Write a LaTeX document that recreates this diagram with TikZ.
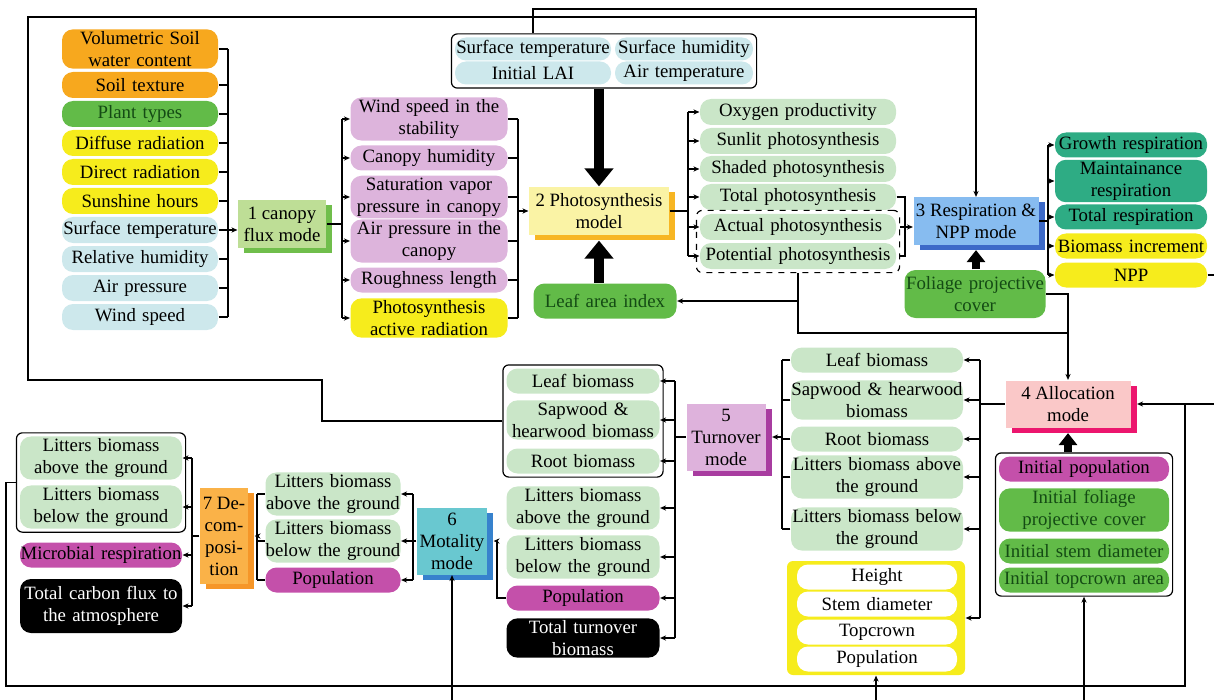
\documentclass[tikz,border=0pt]{standalone}
\usepackage{fontspec}
\setmainfont{Liberation Serif}
\usetikzlibrary{arrows.meta,fit,shadows}

\definecolor{cOrange}{RGB}{247,168,30}
\definecolor{cGreen}{RGB}{98,187,72}
\definecolor{cGreenTxt}{RGB}{20,75,20}
\definecolor{cYellow}{RGB}{246,236,28}
\definecolor{cSky}{RGB}{205,232,236}
\definecolor{cLilac}{RGB}{221,180,220}
\definecolor{cMint}{RGB}{202,230,200}
\definecolor{cTeal}{RGB}{46,172,132}
\definecolor{cMag}{RGB}{196,80,170}
\definecolor{mOneFill}{RGB}{190,222,150}
\definecolor{mOneShade}{RGB}{112,190,75}
\definecolor{mTwoFill}{RGB}{250,243,165}
\definecolor{mTwoShade}{RGB}{247,182,35}
\definecolor{mThreeFill}{RGB}{135,188,240}
\definecolor{mThreeShade}{RGB}{60,105,200}
\definecolor{mFourFill}{RGB}{250,200,200}
\definecolor{mFourShade}{RGB}{236,22,110}
\definecolor{mFiveFill}{RGB}{222,178,220}
\definecolor{mFiveShade}{RGB}{168,60,160}
\definecolor{mSixFill}{RGB}{105,200,208}
\definecolor{mSixShade}{RGB}{55,130,205}
\definecolor{mSevenFill}{RGB}{250,178,72}
\definecolor{mSevenShade}{RGB}{246,150,40}

\tikzset{
  pill/.style={rounded corners=5.5pt, inner xsep=0pt, inner ysep=1pt, minimum height=12.5pt, align=center},
  orangebox/.style={fill=cOrange},
  greenbox/.style={fill=cGreen, text=cGreenTxt},
  yellowbox/.style={fill=cYellow},
  skybox/.style={fill=cSky},
  lilacbox/.style={fill=cLilac},
  mintbox/.style={fill=cMint},
  tealbox/.style={fill=cTeal},
  magbox/.style={fill=cMag},
  blackbox/.style={fill=black, text=white},
  whitebox/.style={fill=white},
  model/.style 2 args={fill=#1, general shadow={fill=#2, shadow xshift=3pt, shadow yshift=-2.5pt}, inner sep=1pt, align=center},
  frame/.style={draw, rounded corners=3pt, inner sep=1.5pt},
  dashframe/.style={draw, dashed, rounded corners=3pt, inner sep=1.5pt},
  conn/.style={-{Stealth[length=3pt,width=2.6pt]}},
  bigarrow/.style={line width=5pt, -{Triangle[length=9pt,width=14pt]}},
  smallarrow/.style={line width=4pt, -{Triangle[length=6pt,width=9pt]}, shorten >=2.5pt}
}

\begin{document}
\begin{tikzpicture}[x=0.5pt,y=-0.5pt,line width=0.6pt,
  every node/.style={font=\fontsize{9.4}{11}\selectfont}]
\useasboundingbox (0,0) rectangle (1214,700);

% canopy flux inputs
\foreach \y/\s/\txt [count=\i] in {49/orangebox/{Volumetric Soil\\water content},
    85/orangebox/Soil texture, 114/greenbox/Plant types,
    143/yellowbox/Diffuse radiation, 172/yellowbox/Direct radiation,
    201/yellowbox/Sunshine hours, 230/skybox/Surface temperature,
    259/skybox/Relative humidity, 288/skybox/Air pressure, 317/skybox/Wind speed}
  \node[pill,\s,text width=78pt,minimum height=13pt] (in\i) at (140,\y) {\txt};

\node[model={mOneFill}{mOneShade},minimum width=44pt,minimum height=24pt] (m1) at (282,224) {1 canopy\\flux mode};

% canopy variables
\foreach \y/\s/\txt [count=\i] in {119/lilacbox/{Wind speed in the\\stability},
    158/lilacbox/Canopy humidity, 197/lilacbox/{Saturation vapor\\pressure in canopy},
    241/lilacbox/{Air pressure in the\\canopy}, 280/lilacbox/Roughness length,
    318/yellowbox/{Photosynthesis\\active radiation}}
  \node[pill,\s,text width=78.5pt] (cf\i) at (429,\y) {\txt};

% forcing on top
\node[pill,skybox,text width=78pt,minimum height=11.5pt] (st) at (533,49) {Surface temperature};
\node[pill,skybox,text width=69pt,minimum height=11.5pt] (sh) at (684,49) {Surface humidity};
\node[pill,skybox,text width=78pt,minimum height=11.5pt] (il) at (533,73) {Initial LAI};
\node[pill,skybox,text width=69pt,minimum height=11.5pt] (airt) at (684,73) {Air temperature};
\node[frame,fit=(st)(airt)] (top) {};

\node[model={mTwoFill}{mTwoShade},minimum width=70pt,minimum height=24pt] (m2) at (599,211) {2 Photosynthesis\\model};
\node[pill,greenbox,text width=71.5pt,minimum height=17.5pt] (lai) at (605,301) {Leaf area index};

% photosynthesis outputs
\foreach \y/\txt [count=\i] in {112/Oxygen productivity, 141/Sunlit photosynthesis,
    169/Shaded photosynthesis, 197/Total photosynthesis,
    227/Actual photosynthesis, 256/Potential photosynthesis}
  \node[pill,mintbox,text width=98pt,minimum height=13pt] (ps\i) at (798,\y) {\txt};
\node[dashframe,fit=(ps5)(ps6)] (ph) {};

\node[model={mThreeFill}{mThreeShade},minimum width=62.5pt,minimum height=23.5pt] (m3) at (976,221) {3 Respiration \&\\NPP mode};
\node[pill,greenbox,text width=70.5pt,minimum height=24pt] (fpc) at (975,294) {Foliage projective\\cover};

% respiration outputs
\foreach \y/\s/\txt [count=\i] in {145/tealbox/Growth respiration,
    181/tealbox/{Maintainance\\respiration}, 217/tealbox/Total respiration,
    246/yellowbox/Biomass increment, 275/yellowbox/NPP}
  \node[pill,\s,text width=76pt] (rs\i) at (1131,\y) {\txt};

\node[model={mFourFill}{mFourShade},minimum width=62.5pt,minimum height=23.5pt] (m4) at (1068,404) {4 Allocation\\mode};

% initial state
\foreach \y/\s/\txt [count=\i] in {469/magbox/Initial population,
    510/greenbox/{Initial foliage\\projective cover}, 551/greenbox/Initial stem diameter,
    580/greenbox/Initial topcrown area}
  \node[pill,\s,text width=85pt] (ini\i) at (1084,\y) {\txt};
\node[frame,fit=(ini1)(ini4)] (ini) {};

% allocation outputs
\foreach \y/\txt [count=\i] in {360/Leaf biomass, 400/{Sapwood \& hearwood\\biomass},
    439/Root biomass, 477/{Litters biomass above\\the ground},
    529/{Litters biomass below\\the ground}}
  \node[pill,mintbox,text width=86pt] (al\i) at (877,\y) {\txt};
\node[fill=cYellow,rounded corners=3pt,minimum width=89pt,minimum height=57pt] (hgrp) at (876,618) {};
\foreach \y/\txt [count=\i] in {577/Height, 604/Stem diameter, 632/Topcrown, 659/Population}
  \node[pill,whitebox,text width=80pt] (hg\i) at (877,\y) {\txt};

\node[model={mFiveFill}{mFiveShade},minimum width=39.5pt,minimum height=33.5pt] (m5) at (726,437) {5\\Turnover\\mode};

% turnover outputs
\foreach \y/\s/\txt [count=\i] in {381/mintbox/Leaf biomass,
    420/mintbox/{Sapwood \&\\hearwood biomass}, 461/mintbox/Root biomass,
    508/mintbox/{Litters biomass\\above the ground}, 557/mintbox/{Litters biomass\\below the ground},
    598/magbox/Population, 638/blackbox/{Total turnover\\biomass}}
  \node[pill,\s,text width=76.5pt] (to\i) at (583,\y) {\txt};
\node[frame,fit=(to1)(to3)] (tog) {};

\node[model={mSixFill}{mSixShade},minimum width=35pt,minimum height=33.5pt] (m6) at (452,541) {6\\Motality\\mode};

% mortality outputs
\foreach \y/\s/\txt [count=\i] in {494/mintbox/{Litters biomass\\above the ground},
    541/mintbox/{Litters biomass\\below the ground}, 580/magbox/Population}
  \node[pill,\s,text width=67.5pt] (mo\i) at (333,\y) {\txt};

\node[model={mSevenFill}{mSevenShade},minimum width=24pt,minimum height=48pt] (m7) at (224,536) {7 De-\\com-\\posi-\\tion};

% decomposition outputs
\foreach \y/\s/\txt [count=\i] in {458/mintbox/{Litters biomass\\above the ground},
    507/mintbox/{Litters biomass\\below the ground}, 555/magbox/Microbial respiration}
  \node[pill,\s,text width=81pt] (de\i) at (101,\y) {\txt};
\node[pill,blackbox,text width=81pt,minimum height=27pt] (de4) at (101,606) {Total carbon flux to\\the atmosphere};
\node[frame,fit=(de1)(de2)] (deg) {};

% bus lines
\coordinate (b1) at (228,0);
\coordinate (b2) at (342,0);
\coordinate (b3) at (518,0);
\coordinate (b4) at (688,0);
\coordinate (b5) at (905,0);
\coordinate (b6) at (1048,0);
\coordinate (b7) at (980,0);
\coordinate (b8) at (782,0);
\coordinate (b9) at (675,0);
\coordinate (b10) at (497,0);
\coordinate (b11) at (413,0);
\coordinate (b12) at (257,0);
\coordinate (b13) at (192,0);
\coordinate (bot) at (0,700);

% 1 canopy flux
\foreach \i in {1,...,10} \draw (in\i.east) -- (in\i.east -| b1);
\draw (in1.east -| b1) -- (in10.east -| b1);
\draw[conn] (in7.east) -- (in7.east -| m1.west);
\draw (m1.east) -- (m1.east -| b2);
\draw (cf1.west -| b2) -- (cf6.west -| b2);
\foreach \i in {1,...,6} {
  \draw[conn] (cf\i.west -| b2) -- (cf\i.west);
  \draw (cf\i.east) -- (cf\i.east -| b3);
}
\draw (cf1.east -| b3) -- (cf6.east -| b3);
\draw[conn] (m2.west -| b3) -- (m2.west);

% 2 photosynthesis
\draw[bigarrow] (m2.north |- top.south) -- (m2.north);
\draw[bigarrow,shorten >=2.5pt] (m2.south |- lai.north) -- (m2.south);
\draw (m2.east) -- (m2.east -| b4);
\draw (ps1.west -| b4) -- (ps6.west -| b4);
\foreach \i in {1,...,6} \draw[conn] (ps\i.west -| b4) -- (ps\i.west);
\draw (ps4.east) -| (ps6.east -| b5) -- (ps6.east -| ph.east);
\draw[conn] (ps5.east -| ph.east) -- (ps5.east -| m3.west);
\draw[conn] (ph.south |- lai.east) -- (lai.east);

% 3 respiration
\draw[smallarrow] (m3.south |- fpc.north) -- (m3.south);
\draw (m3.east) -- (m3.east -| b6);
\draw (rs1.west -| b6) -- (rs5.west -| b6);
\foreach \i in {1,...,5} \draw[conn] (rs\i.west -| b6) -- (rs\i.west);
\coordinate (tr) at (976,9);
\draw[conn] (st.north |- top.north) |- (tr) -- (m3.north);

% 4 allocation
\coordinate (j2) at (1068,333);
\coordinate (nr) at (1222,275);
\draw[conn] (fpc.east) -| (m4.north);
\draw (ph.south) |- (j2);
\draw[conn,shorten >=3pt] (rs5.east) -- (nr) |- (m4.east);
\draw[smallarrow] (m4.south |- ini.north) -- (m4.south);
\draw[conn] (ini.south |- bot) -- (ini.south);
\draw (m4.west) -- (m4.west -| b7);
\draw (al1.east -| b7) -- (hgrp.east -| b7);
\foreach \i in {1,...,5} \draw[conn] (al\i.east -| b7) -- (al\i.east);
\draw[conn] (hgrp.east -| b7) -- (hgrp.east);
\draw[conn] (hgrp.south |- bot) -- (hgrp.south);

% 5 turnover
\foreach \i in {1,...,5} \draw (al\i.west) -- (al\i.west -| b8);
\draw (al1.west -| b8) -- (al5.west -| b8);
\draw[conn,shorten >=3pt] (m5.east -| b8) -- (m5.east);
\draw (m5.west) -- (m5.west -| b9);
\draw (to1.east -| b9) -- (to7.east -| b9);
\foreach \i in {1,...,7} \draw[conn] (to\i.east -| b9) -- (to\i.east);
\coordinate (fb1) at (322,380);
\coordinate (fb2) at (28,17);
\coordinate (tl) at (976,17);
\draw (tog.west) -| (fb1) -| (fb2) -- (tl);

% 6 mortality
\draw[conn,shorten >=3pt] (to6.west) -| (m6.east -| b10) -- (m6.east);
\draw[conn] (m6.south |- bot) -- (m6.south);
\draw (m6.west) -- (m6.west -| b11);
\draw (mo1.east -| b11) -- (mo3.east -| b11);
\foreach \i in {1,2,3} {
  \draw[conn] (mo\i.east -| b11) -- (mo\i.east);
  \draw (mo\i.west) -- (mo\i.west -| b12);
}
\draw (mo1.west -| b12) -- (mo3.west -| b12);
\draw[conn,shorten >=3pt] (m7.east -| b12) -- (m7.east);

% 7 decomposition
\draw (m7.west) -- (m7.west -| b13);
\draw (de1.east -| b13) -- (de4.east -| b13);
\foreach \i in {1,...,4} \draw[conn] (de\i.east -| b13) -- (de\i.east);
\coordinate (bl) at (6,686);
\coordinate (br) at (1185,686);
\draw (deg.west) -| (bl) -- (br) -- (br |- m4.east);
\end{tikzpicture}
\end{document}
